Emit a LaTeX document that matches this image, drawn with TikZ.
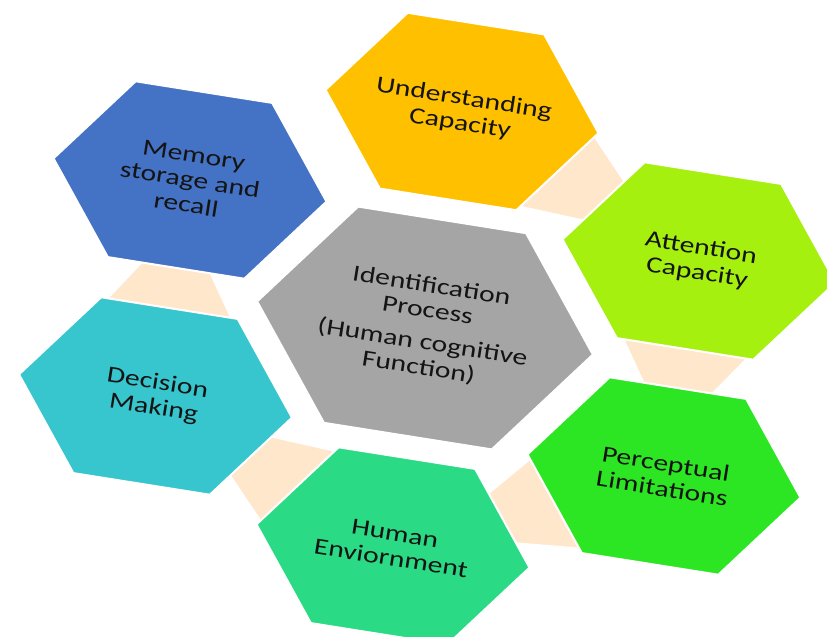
\documentclass[tikz,border=0pt]{standalone}
\usepackage{fontspec}
\setmainfont{Carlito}
\usetikzlibrary{calc}
\definecolor{cMem}{RGB}{68,114,196}
\definecolor{cUnd}{RGB}{255,192,0}
\definecolor{cAtt}{RGB}{166,240,15}
\definecolor{cPer}{RGB}{45,230,35}
\definecolor{cHum}{RGB}{42,218,132}
\definecolor{cDec}{RGB}{55,197,206}
\definecolor{cMid}{RGB}{165,165,165}
\definecolor{cLink}{RGB}{255,231,204}
\definecolor{cTxt}{RGB}{20,20,20}
% hexagon corner coordinates: name, cx, cy, scale
\newcommand\hexcoords[4]{%
  \path[shift={(#2,#3)}, rotate=-9, scale=#4]
    (138.2,0) coordinate (#1-r) (69.1,-89) coordinate (#1-tr)
    (-69.1,-89) coordinate (#1-tl) (-138.2,0) coordinate (#1-l)
    (-69.1,89) coordinate (#1-bl) (69.1,89) coordinate (#1-br);
  \coordinate (#1-c) at (#2,#3);}
\newcommand\hexfill[2]{%
  \path[hexbox, fill=#2] (#1-r) -- (#1-tr) -- (#1-tl) -- (#1-l) -- (#1-bl) -- (#1-br) -- cycle;}
% link: hex A edge (a1,a2) full, hex B edge (b1,b2) middle half
\newcommand\hexlink[4]{%
  \path[linkbox] ($(#1)!0.05!(#2)$) -- ($(#1)!0.95!(#2)$) -- ($(#3)!0.75!(#4)$) -- ($(#3)!0.25!(#4)$) -- cycle;}
\tikzset{
  hexbox/.style={draw=white, line width=1pt},
  linkbox/.style={fill=cLink, draw=white, line width=0.6pt},
  lbl/.style={align=center, text=cTxt, font=\fontsize{11.6}{12.6}\selectfont,
    inner sep=0pt, rotate=-9, xscale=1.28}
}
\begin{document}
\begin{tikzpicture}[x=0.5pt, y=-0.5pt]
\clip (0,0) rectangle (827,637);
\fill[white] (0,0) rectangle (827,637);
\hexcoords{mem}{190}{180}{1}
\hexcoords{und}{462}{111.5}{1}
\hexcoords{att}{699}{261}{1}
\hexcoords{per}{664}{476}{1}
\hexcoords{hum}{393}{546}{1}
\hexcoords{dec}{155.5}{396}{1}
\hexcoords{mid}{425}{328}{1.23}
% links
\hexlink{und-r}{und-br}{att-tl}{att-l}
\hexlink{att-bl}{att-br}{per-tl}{per-tr}
\hexlink{per-l}{per-bl}{hum-tr}{hum-r}
\hexlink{hum-tl}{hum-l}{dec-r}{dec-br}
\hexlink{dec-tl}{dec-tr}{mem-bl}{mem-br}
% hexagons
\hexfill{mem}{cMem}
\hexfill{und}{cUnd}
\hexfill{att}{cAtt}
\hexfill{per}{cPer}
\hexfill{hum}{cHum}
\hexfill{dec}{cDec}
\hexfill{mid}{cMid}
% labels
\node[lbl] (memT) at (mem-c) {Memory\\storage and\\recall};
\node[lbl] (undT) at (und-c) {Understanding\\Capacity};
\node[lbl] (attT) at (att-c) {Attention\\Capacity};
\node[lbl] (perT) at (per-c) {Perceptual\\Limitations};
\node[lbl] (humT) at (hum-c) {Human\\Enviornment};
\node[lbl] (decT) at (dec-c) {Decision\\Making};
\node[lbl] (midT) at ($(mid-c)+(0,-1)$) {Identification\\Process\\[3.5pt](Human cognitive\\Function)};
\end{tikzpicture}
\end{document}
